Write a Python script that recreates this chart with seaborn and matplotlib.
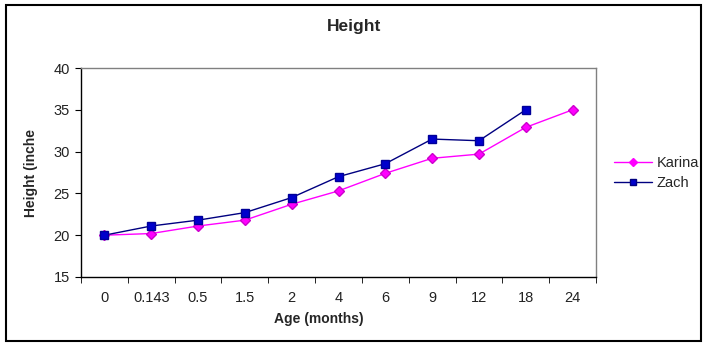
import matplotlib
matplotlib.use("Agg")
import matplotlib.pyplot as plt
import seaborn as sns
import pandas as pd
import numpy as np
from matplotlib.patches import Rectangle
from matplotlib.lines import Line2D

ages = ["0", "0.143", "0.5", "1.5", "2", "4", "6", "9", "12", "18", "24"]
karina = [20.0, 20.2, 21.1, 21.8, 23.7, 25.3, 27.4, 29.2, 29.7, 32.9, 35.0]
zach = [20.0, 21.1, 21.8, 22.7, 24.5, 27.0, 28.55, 31.5, 31.3, 35.0, np.nan]
y_ticks = [15, 20, 25, 30, 35, 40]

sns.set_style("white")
plt.rcParams['font.family'] = ['Liberation Sans', 'DejaVu Sans']

rows = []
for i, a in enumerate(ages):
    rows.append({"pos": i, "Height": karina[i], "Series": "Karina"})
    rows.append({"pos": i, "Height": zach[i], "Series": "Zach"})
df = pd.DataFrame(rows)

fig = plt.figure(figsize=(7.09, 3.47), dpi=100)
ax = fig.add_axes([81/709, 1-277/347, (596-81)/709, (277-68)/347])

palette = {"Karina": "#FF00FF", "Zach": "#000080"}
sns.lineplot(data=df, x="pos", y="Height", hue="Series", palette=palette,
             ax=ax, legend=False, linewidth=1.0)
ax.plot(range(len(ages)), karina, linestyle="none", marker="D", markersize=5,
        color="#FF00FF", markeredgecolor="#CC00CC")
ax.plot(range(len(ages)), zach, linestyle="none", marker="s", markersize=5.5,
        color="#0000CC", markeredgecolor="#000099")

ax.set_xlim(-0.5, len(ages) - 0.5)
ax.set_ylim(15, 40)
ax.set_yticks(y_ticks)
ax.set_yticklabels([str(t) for t in y_ticks], fontsize=10.5)
ax.set_xticks(range(len(ages)))
ax.set_xticklabels(ages, fontsize=10.5)
ax.set_xticks(np.arange(-0.5, len(ages), 1.0), minor=True)
ax.tick_params(axis="x", which="major", length=0, pad=10)
ax.tick_params(axis="x", which="minor", length=4, direction="out", color="black", bottom=True)
ax.tick_params(axis="y", which="major", length=4, direction="out", color="black", left=True, pad=4)
for lab in ax.get_yticklabels() + ax.get_xticklabels():
    lab.set_color("#222222")

ax.spines["left"].set_color("black")
ax.spines["bottom"].set_color("black")
ax.spines["top"].set_color("#808080")
ax.spines["right"].set_color("#808080")
for s in ax.spines.values():
    s.set_linewidth(1.0)

ax.set_xlabel("")
ax.set_ylabel("")
fig.text(319/709, 1-319/347, "Age (months)", ha="center", va="center",
         fontsize=10, fontweight="bold")
fig.text(31/709, 1-173/347, "Height (inche", ha="center", va="center",
         rotation=90, fontsize=10, fontweight="bold")
fig.text(354/709, 1-27/347, "Height", ha="center", va="center",
         fontsize=12.5, fontweight="bold")

handles = [Line2D([], [], color="#FF00FF", marker="D", markersize=4, linewidth=1.0),
           Line2D([], [], color="#000080", marker="s", markersize=4.5,
                  markerfacecolor="#0000CC", linewidth=1.0)]
fig.legend(handles, ["Karina", "Zach"], loc="center left",
           bbox_to_anchor=(601/709, 1-173/347), frameon=False, fontsize=10.5,
           handlelength=2.6, handletextpad=0.3, labelspacing=0.45)

fig.patches.append(Rectangle((6/709, 1-341/347), (701-6)/709, (341-5)/347,
                             transform=fig.transFigure, fill=False,
                             edgecolor="black", linewidth=1.5))

fig.savefig("out.png", dpi=100)
